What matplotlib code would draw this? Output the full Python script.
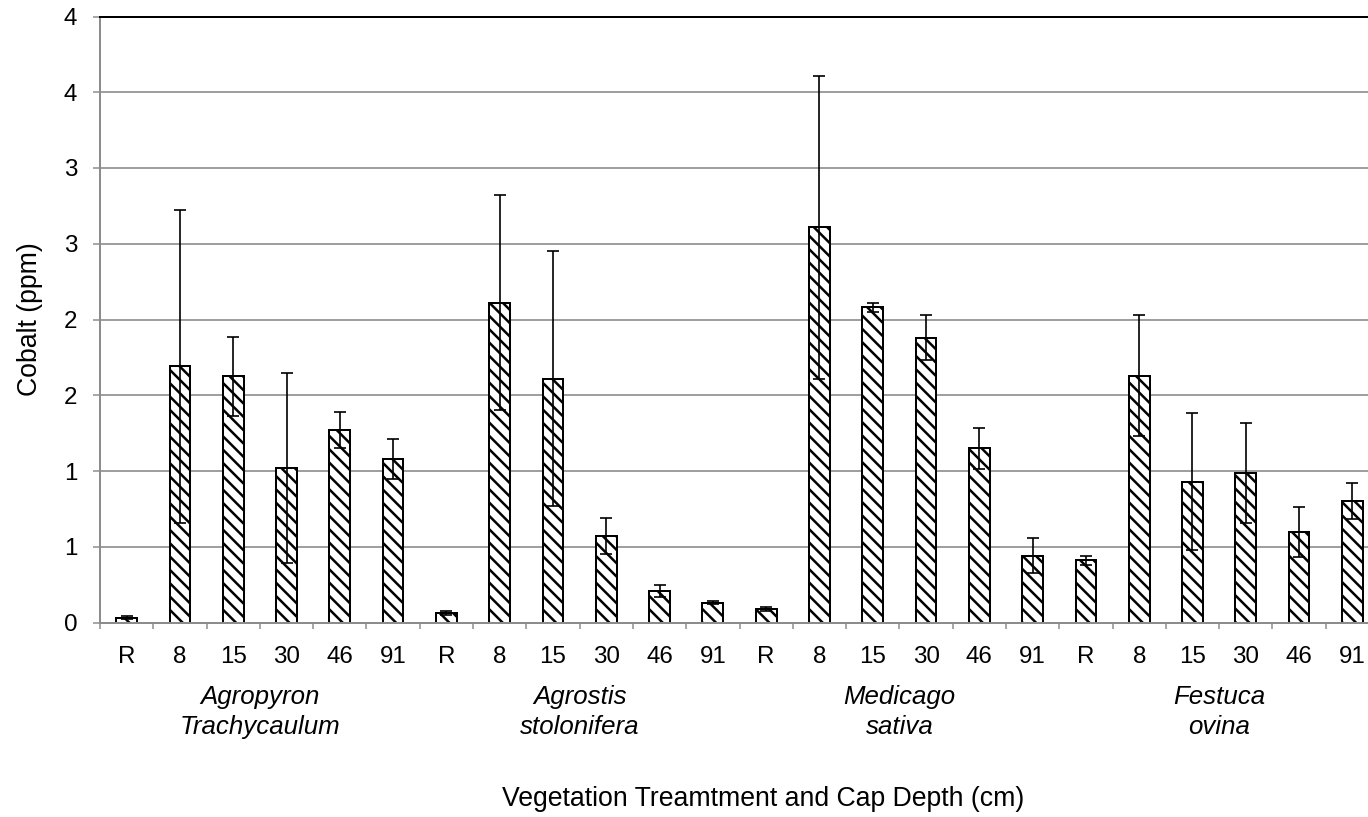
import matplotlib
matplotlib.use("Agg")
import matplotlib.pyplot as plt
import numpy as np

# cap depth treatments within each vegetation group
depths = ["R", "8", "15", "30", "46", "91"]
species_line1 = ["Agropyron", "Agrostis", "Medicago", "Festuca"]
species_line2 = ["Trachycaulum", "stolonifera", "sativa", "ovina"]

# mean cobalt (ppm) and error for each depth
agropyron = [0.03, 1.69, 1.625, 1.02, 1.27, 1.08]
agropyron_err = [0.01, 1.03, 0.26, 0.63, 0.12, 0.13]
agrostis = [0.06, 2.11, 1.61, 0.57, 0.21, 0.13]
agrostis_err = [0.013, 0.71, 0.84, 0.12, 0.04, 0.01]
medicago = [0.09, 2.61, 2.08, 1.88, 1.15, 0.44]
medicago_err = [0.015, 1.00, 0.03, 0.15, 0.135, 0.115]
festuca = [0.41, 1.63, 0.93, 0.99, 0.60, 0.80]
festuca_err = [0.03, 0.40, 0.45, 0.33, 0.165, 0.12]

# y axis labels as printed with zero decimals
ytick_values = [0, 0.5, 1, 1.5, 2, 2.5, 3, 3.5, 4]
ytick_labels = ["0", "1", "1", "2", "2", "3", "3", "4", "4"]

plt.rcParams["font.family"] = ["Liberation Sans", "DejaVu Sans"]
plt.rcParams["hatch.linewidth"] = 1.5

values = np.array(agropyron + agrostis + medicago + festuca)
errors = np.array(agropyron_err + agrostis_err + medicago_err + festuca_err)
x = np.arange(len(values))
n_depth = len(depths)

W, H, DPI = 1368, 817, 120
fig = plt.figure(figsize=(W / DPI, H / DPI), dpi=DPI)
# plot area runs a little past the right edge of the canvas
ax = fig.add_axes([100 / W, 194.5 / H, 1279 / W, 606 / H])

grey = "#8c8c8c"
ax.bar(x, values, width=0.39, color="white", edgecolor="black",
       linewidth=1.2, hatch="\\\\\\", zorder=2)
ax.errorbar(x, values, yerr=errors, fmt="none", ecolor="black",
            elinewidth=1.0, capsize=3.6, capthick=1.0, zorder=3)

ax.set_xlim(-0.5, len(values) - 0.5)
ax.set_ylim(0, 4)

ax.set_yticks(ytick_values)
ax.set_yticklabels(ytick_labels)
ax.yaxis.grid(True, color=grey, linewidth=1.0, zorder=0)
ax.set_axisbelow(True)
ax.tick_params(axis="y", length=4.2, width=0.9, color=grey, pad=9.5,
               labelsize=14.5)

ax.set_xticks(x)
ax.set_xticklabels(depths * (len(values) // n_depth))
ax.set_xticks(np.arange(-0.5, len(values), 1), minor=True)
ax.tick_params(axis="x", which="major", length=0, pad=14, labelsize=14.5)
ax.tick_params(axis="x", which="minor", length=3.6, width=0.9, color=grey)

for side in ["left", "bottom"]:
    ax.spines[side].set_color(grey)
    ax.spines[side].set_linewidth(1.2)
ax.spines["top"].set_color("black")
ax.spines["top"].set_linewidth(1.2)
ax.spines["right"].set_visible(False)

# species names under each group of six bars
for g in range(len(species_line1)):
    xc = g * n_depth + (n_depth - 1) / 2
    ax.text(xc, -0.1345, species_line1[g], transform=ax.get_xaxis_transform(),
            ha="center", va="baseline", fontsize=15.5, style="italic")
    ax.text(xc, -0.184, species_line2[g], transform=ax.get_xaxis_transform(),
            ha="center", va="baseline", fontsize=15.5, style="italic")

fig.text(763 / W, (H - 806.5) / H, "Vegetation Treamtment and Cap Depth (cm)",
         ha="center", va="baseline", fontsize=16)
fig.text(30 / W, (H - 319.5) / H, "Cobalt (ppm)", rotation=90,
         ha="center", va="center", fontsize=16)

fig.savefig("out.png", dpi=DPI)
